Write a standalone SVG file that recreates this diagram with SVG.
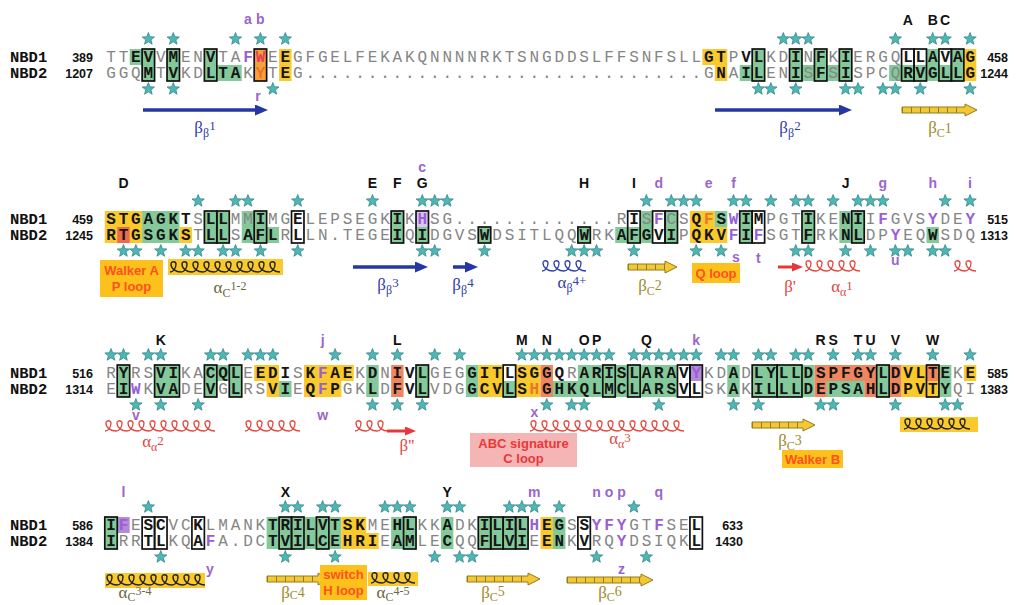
<svg xmlns="http://www.w3.org/2000/svg" width="1018" height="605" viewBox="0 0 1018 605">
<defs>
<style>
.sq{font-family:"Liberation Mono",monospace;font-size:16px;letter-spacing:2.85px}
.g{fill:#858585}
.k{fill:#151515;font-weight:bold}
.p{fill:#9a5fd6;font-weight:bold}
.o{fill:#f07428;font-weight:bold}
.rd{fill:#e8405a;font-weight:bold}
.nb{font-family:"Liberation Mono",monospace;font-size:15.5px;font-weight:bold;fill:#111}
.num{font-family:"Liberation Sans",Arial,sans-serif;font-size:12.5px;font-weight:bold;fill:#111;text-anchor:end}
.lab{font-family:"Liberation Sans",Arial,sans-serif;font-size:14px;font-weight:bold;fill:#111;text-anchor:middle}
.pl{font-family:"Liberation Sans",Arial,sans-serif;font-size:14px;font-weight:bold;fill:#9a66cc;text-anchor:middle}
.gr{fill:#84c99a}.ye{fill:#fac92c}.sa{fill:#ef8660}.pu{fill:#b58ad8}.or{fill:#f5a23c}.rb{fill:#ec6a50}.lp{fill:#dcc6f0}
.bx{fill:none;stroke:#111;stroke-width:1.7}
.ss{font-family:"Liberation Serif",serif;font-size:17px;text-anchor:middle}
.bl{fill:#3040a8}.rl{fill:#e0483f}.ol{fill:#a08a2a}.dk{fill:#6b6540}
.bt{font-family:"Liberation Sans",Arial,sans-serif;font-size:13px;font-weight:bold;fill:#ff5020;text-anchor:middle}
.ya{fill:#f4c733;stroke:#8f7d25;stroke-width:1}
.tk{fill:none;stroke:#8f7d25;stroke-width:6;stroke-dasharray:1 8}
.lb{stroke:#2537a3;stroke-width:3.5}
.lr{stroke:#e8363a;stroke-width:3}
</style>
<path id="st" d="M0,-6.5 L1.65,-2.27 L6.18,-2.01 L2.66,0.87 L3.82,5.26 L0,2.8 L-3.82,5.26 L-2.66,0.87 L-6.18,-2.01 L-1.65,-2.27 Z" fill="#4db7b6" stroke="#2b7d7d" stroke-width="0.7"/>
<marker id="ab" markerUnits="userSpaceOnUse" markerWidth="13" markerHeight="11" refX="1" refY="5.5" orient="auto" viewBox="0 0 13 11"><path d="M0,0 L13,5.5 L0,11 Z" fill="#2537a3"/></marker>
<marker id="ar" markerUnits="userSpaceOnUse" markerWidth="11" markerHeight="9" refX="1" refY="4.5" orient="auto" viewBox="0 0 11 9"><path d="M0,0 L11,4.5 L0,9 Z" fill="#e8363a"/></marker>
<pattern id="hr" width="11" height="14" patternUnits="userSpaceOnUse"><path d="M0,12 c3,0 6,-3 6,-8 c0,-3 -5,-3 -5,0 c0,5 5,8 10,8" fill="none" stroke="#e0483f" stroke-width="1.3"/></pattern>
<pattern id="hb" width="11" height="14" patternUnits="userSpaceOnUse"><path d="M0,12 c3,0 6,-3 6,-8 c0,-3 -5,-3 -5,0 c0,5 5,8 10,8" fill="none" stroke="#3040a8" stroke-width="1.3"/></pattern>
<pattern id="hk" width="11" height="14" patternUnits="userSpaceOnUse"><path d="M0,12 c3,0 6,-3 6,-8 c0,-3 -5,-3 -5,0 c0,5 5,8 10,8" fill="none" stroke="#222" stroke-width="1.4"/></pattern>
</defs>
<rect width="1018" height="605" fill="#fff"/>

<g id="row1">
<rect class="gr" x="129.68" y="49" width="24.9" height="16"/>
<rect class="gr" x="167.03" y="49" width="12.45" height="16"/>
<rect class="gr" x="204.38" y="49" width="12.45" height="16"/>
<rect class="gr" x="142.13" y="65" width="12.45" height="16"/>
<rect class="gr" x="167.03" y="65" width="12.45" height="16"/>
<rect class="gr" x="204.38" y="65" width="37.35" height="16"/>
<rect class="or" x="254.18" y="49" width="12.45" height="32"/>
<rect class="ye" x="279.08" y="49" width="12.45" height="32"/>
<rect class="ye" x="702.38" y="49" width="24.9" height="16"/>
<rect class="ye" x="714.83" y="65" width="12.45" height="16"/>
<rect class="gr" x="739.73" y="65" width="12.45" height="16"/>
<rect class="gr" x="752.18" y="49" width="12.45" height="32"/>
<rect class="gr" x="789.53" y="65" width="62.25" height="16"/>
<rect class="gr" x="789.53" y="49" width="12.45" height="16"/>
<rect class="gr" x="814.43" y="49" width="12.45" height="16"/>
<rect class="gr" x="839.33" y="49" width="12.45" height="16"/>
<rect class="gr" x="889.13" y="65" width="74.7" height="16"/>
<rect class="gr" x="926.48" y="49" width="12.45" height="16"/>
<rect class="gr" x="951.38" y="49" width="12.45" height="16"/>
<rect class="ye" x="963.83" y="49" width="12.45" height="32"/>
<text class="nb" x="10" y="62.3">NBD1</text><text class="num" x="93" y="62.3">389</text>
<text class="nb" x="10" y="78.3">NBD2</text><text class="num" x="93" y="78.3">1207</text>
<text class="sq" x="106.2" y="62.3"><tspan class="g">TT</tspan><tspan class="k">EV</tspan><tspan class="g">V</tspan><tspan class="k">M</tspan><tspan class="g">EN</tspan><tspan class="k">V</tspan><tspan class="g">TA</tspan><tspan class="p">F</tspan><tspan class="rd">W</tspan><tspan class="g">E</tspan><tspan class="k">E</tspan><tspan class="g">GFGELFEKAKQNNNNRKTSNGDDSLFFSNFSLL</tspan><tspan class="k">GT</tspan><tspan class="g">P</tspan><tspan class="k">VL</tspan><tspan class="g">KD</tspan><tspan class="k">I</tspan><tspan class="g">N</tspan><tspan class="k">F</tspan><tspan class="g">K</tspan><tspan class="k">I</tspan><tspan class="g">ERGQ</tspan><tspan class="k">LLAVAG</tspan></text>
<text class="sq" x="106.2" y="78.3"><tspan class="g">GGQ</tspan><tspan class="k">M</tspan><tspan class="g">T</tspan><tspan class="k">V</tspan><tspan class="g">KD</tspan><tspan class="k">LTA</tspan><tspan class="g">K</tspan><tspan class="o">Y</tspan><tspan class="g">T</tspan><tspan class="k">E</tspan><tspan class="g">G................................G</tspan><tspan class="k">N</tspan><tspan class="g">A</tspan><tspan class="k">IL</tspan><tspan class="g">EN</tspan><tspan class="k">I</tspan><tspan class="g">S</tspan><tspan class="k">F</tspan><tspan class="g">S</tspan><tspan class="k">I</tspan><tspan class="g">SPCQ</tspan><tspan class="k">RVGLLG</tspan></text>
<text class="num" x="1008" y="62.3">458</text><text class="num" x="1008" y="78.3">1244</text>
<rect class="bx" x="142.13" y="49" width="12.45" height="32"/>
<rect class="bx" x="167.03" y="49" width="12.45" height="32"/>
<rect class="bx" x="204.38" y="49" width="12.45" height="32"/>
<rect class="bx" x="254.18" y="49" width="12.45" height="32"/>
<rect class="bx" x="752.18" y="49" width="12.45" height="32"/>
<rect class="bx" x="789.53" y="49" width="12.45" height="32"/>
<rect class="bx" x="814.43" y="49" width="12.45" height="32"/>
<rect class="bx" x="839.33" y="49" width="12.45" height="32"/>
<rect class="bx" x="901.58" y="49" width="12.45" height="32"/>
<rect class="bx" x="914.03" y="49" width="12.45" height="32"/>
<rect class="bx" x="938.93" y="49" width="12.45" height="32"/>
<rect class="bx" x="951.38" y="49" width="12.45" height="32"/>
<g id="stars1">
<use href="#st" x="148.35" y="39"/><use href="#st" x="173.25" y="39"/><use href="#st" x="235.5" y="39"/><use href="#st" x="260.4" y="39"/><use href="#st" x="285.3" y="39"/><use href="#st" x="783.3" y="39"/><use href="#st" x="795.75" y="39"/><use href="#st" x="808.2" y="39"/><use href="#st" x="895.35" y="39"/><use href="#st" x="932.7" y="39"/><use href="#st" x="945.15" y="39"/><use href="#st" x="970.05" y="39"/>
<use href="#st" x="148.35" y="89"/><use href="#st" x="173.25" y="89"/><use href="#st" x="272.85" y="89"/><use href="#st" x="758.4" y="89"/><use href="#st" x="770.85" y="89"/><use href="#st" x="795.75" y="89"/><use href="#st" x="845.55" y="89"/><use href="#st" x="858" y="89"/><use href="#st" x="882.9" y="89"/><use href="#st" x="895.35" y="89"/><use href="#st" x="920.25" y="89"/><use href="#st" x="970.05" y="89"/>
</g>
<text class="pl" x="247.95" y="24">a</text><text class="pl" x="260.4" y="24">b</text>
<text class="lab" x="907.8" y="25">A</text><text class="lab" x="932.7" y="25">B</text><text class="lab" x="945.15" y="25">C</text>
<text class="pl" x="258" y="101">r</text>
</g>

<g id="ss1">
<line class="lb" x1="143" y1="110" x2="256" y2="110" marker-end="url(#ab)"/>
<text class="ss bl" x="205" y="133">β<tspan font-size="12" dy="4">β</tspan><tspan font-size="13" dy="-7">1</tspan></text>
<line class="lb" x1="715" y1="110" x2="840" y2="110" marker-end="url(#ab)"/>
<text class="ss bl" x="790" y="133">β<tspan font-size="12" dy="4">β</tspan><tspan font-size="13" dy="-7">2</tspan></text>
<path class="ya" d="M902,107 H965 V104 L977,110 L965,116 V113 H902 Z"/><path class="tk" d="M902,110 H965"/>
<text class="ss ol" x="940" y="133">β<tspan font-size="12" dy="4">C</tspan><tspan font-size="14" dy="-4">1</tspan></text>
</g>

<g id="row2">
<rect class="ye" x="104.78" y="211" width="37.35" height="32"/>
<rect class="rb" x="117.23" y="227" width="12.45" height="16"/>
<rect class="gr" x="142.13" y="211" width="37.35" height="32"/>
<rect class="ye" x="179.48" y="227" width="12.45" height="16"/>
<rect class="gr" x="204.38" y="211" width="24.9" height="32"/>
<rect class="gr" x="241.73" y="211" width="24.9" height="16"/>
<rect class="gr" x="241.73" y="227" width="37.35" height="16"/>
<rect class="gr" x="391.13" y="211" width="12.45" height="32"/>
<rect class="lp" x="416.03" y="211" width="12.45" height="16"/>
<rect class="gr" x="416.03" y="227" width="12.45" height="16"/>
<rect class="gr" x="478.28" y="227" width="12.45" height="16"/>
<rect class="gr" x="577.88" y="227" width="12.45" height="16"/>
<rect class="gr" x="640.13" y="211" width="12.45" height="16"/>
<rect class="gr" x="665.03" y="211" width="12.45" height="16"/>
<rect class="gr" x="615.23" y="227" width="37.35" height="16"/>
<rect class="gr" x="665.03" y="227" width="12.45" height="16"/>
<rect class="ye" x="689.93" y="211" width="24.9" height="16"/>
<rect class="ye" x="689.93" y="227" width="37.35" height="16"/>
<rect class="gr" x="714.83" y="211" width="12.45" height="16"/>
<rect class="gr" x="739.73" y="211" width="12.45" height="32"/>
<rect class="gr" x="801.98" y="211" width="12.45" height="32"/>
<rect class="gr" x="839.33" y="211" width="24.9" height="32"/>
<rect class="gr" x="926.48" y="227" width="12.45" height="16"/>
<text class="nb" x="10" y="224.3">NBD1</text><text class="num" x="93" y="224.3">459</text>
<text class="nb" x="10" y="240.3">NBD2</text><text class="num" x="93" y="240.3">1245</text>
<text class="sq" x="106.2" y="224.3"><tspan class="k">STGAGKT</tspan><tspan class="g">S</tspan><tspan class="k">LL</tspan><tspan class="g">MM</tspan><tspan class="k">I</tspan><tspan class="g">MG</tspan><tspan class="k">E</tspan><tspan class="g">LEPSEGK</tspan><tspan class="k">I</tspan><tspan class="g">K</tspan><tspan class="p">H</tspan><tspan class="g">SG.............R</tspan><tspan class="k">I</tspan><tspan class="g">S</tspan><tspan class="p">F</tspan><tspan class="g">CS</tspan><tspan class="k">Q</tspan><tspan class="o">F</tspan><tspan class="k">S</tspan><tspan class="p">W</tspan><tspan class="k">IM</tspan><tspan class="g">PGT</tspan><tspan class="k">I</tspan><tspan class="g">KE</tspan><tspan class="k">NI</tspan><tspan class="g">I</tspan><tspan class="p">F</tspan><tspan class="g">GVS</tspan><tspan class="p">Y</tspan><tspan class="g">DE</tspan><tspan class="p">Y</tspan></text>
<text class="sq" x="106.2" y="240.3"><tspan class="k">RTGSGKS</tspan><tspan class="g">T</tspan><tspan class="k">LL</tspan><tspan class="g">S</tspan><tspan class="k">AFL</tspan><tspan class="g">R</tspan><tspan class="k">L</tspan><tspan class="g">LN.TEGE</tspan><tspan class="k">I</tspan><tspan class="g">Q</tspan><tspan class="k">I</tspan><tspan class="g">DGVS</tspan><tspan class="k">W</tspan><tspan class="g">DSITLQQ</tspan><tspan class="k">W</tspan><tspan class="g">RK</tspan><tspan class="k">AFGVI</tspan><tspan class="g">P</tspan><tspan class="k">QKV</tspan><tspan class="p">F</tspan><tspan class="k">I</tspan><tspan class="p">F</tspan><tspan class="g">SGT</tspan><tspan class="k">F</tspan><tspan class="g">RK</tspan><tspan class="k">NL</tspan><tspan class="g">DP</tspan><tspan class="p">Y</tspan><tspan class="g">EQ</tspan><tspan class="k">W</tspan><tspan class="g">SDQ</tspan></text>
<text class="num" x="1008" y="224.3">515</text><text class="num" x="1008" y="240.3">1313</text>
<rect class="bx" x="204.38" y="211" width="12.45" height="32"/>
<rect class="bx" x="216.83" y="211" width="12.45" height="32"/>
<rect class="bx" x="254.18" y="211" width="12.45" height="32"/>
<rect class="bx" x="291.53" y="211" width="12.45" height="32"/>
<rect class="bx" x="391.13" y="211" width="12.45" height="32"/>
<rect class="bx" x="416.03" y="211" width="12.45" height="32"/>
<rect class="bx" x="478.28" y="227" width="12.45" height="16"/>
<rect class="bx" x="577.88" y="227" width="12.45" height="16"/>
<rect class="bx" x="627.68" y="211" width="12.45" height="32"/>
<rect class="bx" x="652.58" y="211" width="12.45" height="32"/>
<rect class="bx" x="665.03" y="211" width="12.45" height="32"/>
<rect class="bx" x="739.73" y="211" width="12.45" height="32"/>
<rect class="bx" x="752.18" y="211" width="12.45" height="32"/>
<rect class="bx" x="801.98" y="211" width="12.45" height="32"/>
<rect class="bx" x="851.78" y="211" width="12.45" height="32"/>
<g id="stars2">
<use href="#st" x="198.15" y="201"/><use href="#st" x="235.5" y="201"/><use href="#st" x="247.95" y="201"/><use href="#st" x="297.75" y="201"/><use href="#st" x="372.45" y="201"/><use href="#st" x="422.25" y="201"/><use href="#st" x="434.7" y="201"/><use href="#st" x="447.15" y="201"/><use href="#st" x="646.35" y="201"/><use href="#st" x="671.25" y="201"/><use href="#st" x="683.7" y="201"/><use href="#st" x="696.15" y="201"/><use href="#st" x="733.5" y="201"/><use href="#st" x="745.95" y="201"/><use href="#st" x="770.85" y="201"/><use href="#st" x="795.75" y="201"/><use href="#st" x="808.2" y="201"/><use href="#st" x="833.1" y="201"/><use href="#st" x="858" y="201"/><use href="#st" x="870.45" y="201"/><use href="#st" x="882.9" y="201"/><use href="#st" x="945.15" y="201"/><use href="#st" x="970.05" y="201"/>
<use href="#st" x="123.45" y="251"/><use href="#st" x="135.9" y="251"/><use href="#st" x="160.8" y="251"/><use href="#st" x="185.7" y="251"/><use href="#st" x="198.15" y="251"/><use href="#st" x="223.05" y="251"/><use href="#st" x="235.5" y="251"/><use href="#st" x="260.4" y="251"/><use href="#st" x="297.75" y="251"/><use href="#st" x="422.25" y="251"/><use href="#st" x="434.7" y="251"/><use href="#st" x="484.5" y="251"/><use href="#st" x="571.65" y="251"/><use href="#st" x="584.1" y="251"/><use href="#st" x="596.55" y="251"/><use href="#st" x="633.9" y="251"/><use href="#st" x="696.15" y="251"/><use href="#st" x="721.05" y="251"/><use href="#st" x="795.75" y="251"/><use href="#st" x="808.2" y="251"/><use href="#st" x="845.55" y="251"/><use href="#st" x="870.45" y="251"/><use href="#st" x="895.35" y="251"/><use href="#st" x="907.8" y="251"/><use href="#st" x="932.7" y="251"/><use href="#st" x="945.15" y="251"/>
</g>
<text class="lab" x="123.45" y="188">D</text><text class="lab" x="372.45" y="188">E</text><text class="lab" x="397.35" y="188">F</text><text class="lab" x="422.25" y="188">G</text><text class="lab" x="584.1" y="188">H</text><text class="lab" x="633.9" y="188">I</text><text class="lab" x="845.55" y="188">J</text>
<text class="pl" x="422.25" y="172">c</text><text class="pl" x="658.8" y="188">d</text><text class="pl" x="708.6" y="188">e</text><text class="pl" x="733.5" y="188">f</text><text class="pl" x="882.9" y="188">g</text><text class="pl" x="932.7" y="188">h</text><text class="pl" x="970.05" y="188">i</text>
<text class="pl" x="736" y="262">s</text><text class="pl" x="758.4" y="263">t</text><text class="pl" x="895.35" y="265">u</text>
</g>

<g id="ss2">
<rect x="100" y="260" width="63" height="37" fill="#fcc21b"/>
<text class="bt" x="131.5" y="275">Walker A</text><text class="bt" x="131.5" y="291">P loop</text>
<rect class="ye" x="168" y="259" width="115" height="16"/>
<rect width="110" height="14" fill="url(#hk)" transform="translate(170,260)"/>
<text class="ss dk" x="230" y="293">α<tspan font-size="12" dy="4">C</tspan><tspan font-size="12" dy="-7">1-2</tspan></text>
<line class="lb" x1="353" y1="267" x2="416" y2="267" marker-end="url(#ab)"/>
<text class="ss bl" x="388" y="290">β<tspan font-size="12" dy="4">β</tspan><tspan font-size="13" dy="-7">3</tspan></text>
<line class="lb" x1="453" y1="267" x2="466" y2="267" marker-end="url(#ab)"/>
<text class="ss bl" x="463" y="290">β<tspan font-size="12" dy="4">β</tspan><tspan font-size="13" dy="-7">4</tspan></text>
<rect width="44" height="14" fill="url(#hb)" transform="translate(542,259)"/>
<text class="ss bl" x="572" y="288">α<tspan font-size="12" dy="4">β</tspan><tspan font-size="13" dy="-7">4+</tspan></text>
<path class="ya" d="M628,264 H665 V261 L677,267 L665,273 V270 H628 Z"/><path class="tk" d="M628,267 H665"/>
<text class="ss ol" x="650" y="291">β<tspan font-size="12" dy="4">C</tspan><tspan font-size="14" dy="-5">2</tspan></text>
<rect x="692" y="263" width="48" height="20" fill="#fcc21b"/>
<text class="bt" x="716" y="277.5">Q loop</text>
<line class="lr" x1="778" y1="267" x2="793" y2="267" marker-end="url(#ar)"/>
<text class="ss rl" x="790" y="292">β'</text>
<rect width="55" height="14" fill="url(#hr)" transform="translate(805,259)"/>
<text class="ss rl" x="842" y="292">α<tspan font-size="12" dy="4">α</tspan><tspan font-size="13" dy="-6">1</tspan></text>
<rect width="22" height="14" fill="url(#hr)" transform="translate(954,259)"/>
</g>

<g id="row3">
<rect class="gr" x="117.23" y="365" width="12.45" height="32"/>
<rect class="gr" x="154.58" y="365" width="24.9" height="32"/>
<rect class="gr" x="204.38" y="365" width="12.45" height="32"/>
<rect class="gr" x="216.83" y="365" width="12.45" height="16"/>
<rect class="gr" x="229.28" y="365" width="12.45" height="32"/>
<rect class="ye" x="254.18" y="365" width="24.9" height="16"/>
<rect class="ye" x="266.63" y="381" width="12.45" height="16"/>
<rect class="gr" x="279.08" y="381" width="12.45" height="16"/>
<rect class="ye" x="303.98" y="365" width="49.8" height="16"/>
<rect class="ye" x="303.98" y="381" width="37.35" height="16"/>
<rect class="gr" x="366.23" y="365" width="12.45" height="32"/>
<rect class="sa" x="391.13" y="365" width="12.45" height="32"/>
<rect class="gr" x="416.03" y="365" width="12.45" height="32"/>
<rect class="gr" x="465.83" y="365" width="12.45" height="32"/>
<rect class="ye" x="478.28" y="365" width="24.9" height="32"/>
<rect class="gr" x="503.18" y="381" width="12.45" height="16"/>
<rect class="ye" x="515.63" y="365" width="24.9" height="32"/>
<rect class="sa" x="540.53" y="365" width="12.45" height="32"/>
<rect class="gr" x="552.98" y="381" width="124.5" height="16"/>
<rect class="gr" x="577.88" y="365" width="99.6" height="16"/>
<rect class="pu" x="689.93" y="365" width="12.45" height="16"/>
<rect class="gr" x="727.28" y="365" width="12.45" height="32"/>
<rect class="gr" x="752.18" y="365" width="62.25" height="32"/>
<rect class="sa" x="814.43" y="365" width="62.25" height="16"/>
<rect class="sa" x="814.43" y="381" width="12.45" height="16"/>
<rect class="gr" x="826.88" y="381" width="37.35" height="16"/>
<rect class="sa" x="864.23" y="381" width="12.45" height="16"/>
<rect class="gr" x="876.68" y="365" width="12.45" height="32"/>
<rect class="sa" x="889.13" y="365" width="12.45" height="32"/>
<rect class="ye" x="901.58" y="365" width="24.9" height="32"/>
<rect class="sa" x="926.48" y="365" width="12.45" height="16"/>
<rect class="ye" x="926.48" y="381" width="12.45" height="16"/>
<rect class="gr" x="938.93" y="365" width="12.45" height="32"/>
<rect class="ye" x="963.83" y="365" width="12.45" height="16"/>
<text class="nb" x="10" y="378.3">NBD1</text><text class="num" x="93" y="378.3">516</text>
<text class="nb" x="10" y="394.3">NBD2</text><text class="num" x="93" y="394.3">1314</text>
<text class="sq" x="106.2" y="378.3"><tspan class="g">R</tspan><tspan class="k">Y</tspan><tspan class="g">RS</tspan><tspan class="k">VI</tspan><tspan class="g">KA</tspan><tspan class="k">CQL</tspan><tspan class="g">E</tspan><tspan class="k">EDI</tspan><tspan class="g">S</tspan><tspan class="k">K</tspan><tspan class="p">F</tspan><tspan class="k">AE</tspan><tspan class="g">K</tspan><tspan class="k">D</tspan><tspan class="g">N</tspan><tspan class="k">IVL</tspan><tspan class="g">GEG</tspan><tspan class="k">GITLSGGQ</tspan><tspan class="g">R</tspan><tspan class="k">ARISLARAV</tspan><tspan class="p">Y</tspan><tspan class="g">KD</tspan><tspan class="k">A</tspan><tspan class="g">D</tspan><tspan class="k">LYLLDSPFGYLDVLTE</tspan><tspan class="g">K</tspan><tspan class="k">E</tspan></text>
<text class="sq" x="106.2" y="394.3"><tspan class="g">E</tspan><tspan class="k">I</tspan><tspan class="p">W</tspan><tspan class="g">K</tspan><tspan class="k">VA</tspan><tspan class="g">DE</tspan><tspan class="k">V</tspan><tspan class="g">G</tspan><tspan class="k">L</tspan><tspan class="g">RS</tspan><tspan class="k">VI</tspan><tspan class="g">E</tspan><tspan class="k">Q</tspan><tspan class="p">F</tspan><tspan class="k">P</tspan><tspan class="g">GK</tspan><tspan class="k">L</tspan><tspan class="g">D</tspan><tspan class="k">FVL</tspan><tspan class="g">VDG</tspan><tspan class="k">GCVLS</tspan><tspan class="o">H</tspan><tspan class="k">GHKQLMCLARSVL</tspan><tspan class="g">SK</tspan><tspan class="k">A</tspan><tspan class="g">K</tspan><tspan class="k">ILLLDEPSAHLDPVTY</tspan><tspan class="g">QI</tspan></text>
<text class="num" x="1008" y="378.3">585</text><text class="num" x="1008" y="394.3">1383</text>
<rect class="bx" x="117.23" y="365" width="12.45" height="32"/>
<rect class="bx" x="154.58" y="365" width="24.9" height="32"/>
<rect class="bx" x="204.38" y="365" width="12.45" height="32"/>
<rect class="bx" x="229.28" y="365" width="12.45" height="32"/>
<rect class="bx" x="416.03" y="365" width="12.45" height="32"/>
<rect class="bx" x="503.18" y="365" width="12.45" height="32"/>
<rect class="bx" x="602.78" y="365" width="12.45" height="32"/>
<rect class="bx" x="627.68" y="365" width="12.45" height="32"/>
<rect class="bx" x="677.48" y="365" width="12.45" height="32"/>
<rect class="bx" x="689.93" y="365" width="12.45" height="32"/>
<rect class="bx" x="752.18" y="365" width="24.9" height="32"/>
<rect class="bx" x="777.08" y="365" width="24.9" height="32"/>
<rect class="bx" x="876.68" y="365" width="12.45" height="32"/>
<rect class="bx" x="926.48" y="365" width="12.45" height="32"/>
<g id="stars3">
<use href="#st" x="111" y="355"/><use href="#st" x="123.45" y="355"/><use href="#st" x="148.35" y="355"/><use href="#st" x="160.8" y="355"/><use href="#st" x="210.6" y="355"/><use href="#st" x="223.05" y="355"/><use href="#st" x="247.95" y="355"/><use href="#st" x="260.4" y="355"/><use href="#st" x="272.85" y="355"/><use href="#st" x="335.1" y="355"/><use href="#st" x="372.45" y="355"/><use href="#st" x="397.35" y="355"/><use href="#st" x="434.7" y="355"/><use href="#st" x="459.6" y="355"/><use href="#st" x="521.85" y="355"/><use href="#st" x="534.3" y="355"/><use href="#st" x="546.75" y="355"/><use href="#st" x="559.2" y="355"/><use href="#st" x="571.65" y="355"/><use href="#st" x="584.1" y="355"/><use href="#st" x="596.55" y="355"/><use href="#st" x="609" y="355"/><use href="#st" x="633.9" y="355"/><use href="#st" x="646.35" y="355"/><use href="#st" x="658.8" y="355"/><use href="#st" x="671.25" y="355"/><use href="#st" x="683.7" y="355"/><use href="#st" x="696.15" y="355"/><use href="#st" x="721.05" y="355"/><use href="#st" x="733.5" y="355"/><use href="#st" x="758.4" y="355"/><use href="#st" x="770.85" y="355"/><use href="#st" x="795.75" y="355"/><use href="#st" x="808.2" y="355"/><use href="#st" x="833.1" y="355"/><use href="#st" x="858" y="355"/><use href="#st" x="870.45" y="355"/><use href="#st" x="895.35" y="355"/><use href="#st" x="932.7" y="355"/><use href="#st" x="970.05" y="355"/>
<use href="#st" x="135.9" y="405"/><use href="#st" x="160.8" y="405"/><use href="#st" x="198.15" y="405"/><use href="#st" x="372.45" y="405"/><use href="#st" x="397.35" y="405"/><use href="#st" x="422.25" y="405"/><use href="#st" x="546.75" y="405"/><use href="#st" x="571.65" y="405"/><use href="#st" x="584.1" y="405"/><use href="#st" x="658.8" y="405"/><use href="#st" x="733.5" y="405"/><use href="#st" x="758.4" y="405"/><use href="#st" x="820.65" y="405"/><use href="#st" x="833.1" y="405"/><use href="#st" x="895.35" y="405"/><use href="#st" x="945.15" y="405"/><use href="#st" x="957.6" y="405"/>
</g>
<text class="lab" x="160.8" y="345">K</text><text class="lab" x="397.35" y="345">L</text><text class="lab" x="521.85" y="345">M</text><text class="lab" x="546.75" y="345">N</text><text class="lab" x="584.1" y="345">O</text><text class="lab" x="596.55" y="345">P</text><text class="lab" x="646.35" y="345">Q</text><text class="lab" x="820.65" y="345">R</text><text class="lab" x="833.1" y="345">S</text><text class="lab" x="858" y="345">T</text><text class="lab" x="870.45" y="345">U</text><text class="lab" x="895.35" y="345">V</text><text class="lab" x="932.7" y="345">W</text>
<text class="pl" x="322.65" y="345">j</text><text class="pl" x="696.15" y="345">k</text>
<text class="pl" x="135.9" y="420">v</text><text class="pl" x="322.65" y="420">w</text><text class="pl" x="534.3" y="417">x</text>
</g>

<g id="ss3">
<rect width="110" height="14" fill="url(#hr)" transform="translate(105,419)"/>
<text class="ss rl" x="153" y="447">α<tspan font-size="12" dy="4">α</tspan><tspan font-size="13" dy="-6">2</tspan></text>
<rect width="55" height="14" fill="url(#hr)" transform="translate(245,419)"/>
<rect width="33" height="14" fill="url(#hr)" transform="translate(355,419)"/>
<line class="lr" x1="387" y1="431" x2="406" y2="431" marker-end="url(#ar)"/>
<text class="ss rl" x="407" y="451">β''</text>
<rect x="470" y="433" width="107" height="34" fill="#f5b5b5"/>
<text class="bt" x="523.5" y="448" style="fill:#e8383a">ABC signature</text>
<text class="bt" x="523.5" y="463" style="fill:#e8383a">C loop</text>
<rect width="154" height="14" fill="url(#hr)" transform="translate(530,419)"/>
<text class="ss rl" x="620" y="444">α<tspan font-size="12" dy="4">α</tspan><tspan font-size="13" dy="-6">3</tspan></text>
<path class="ya" d="M752,422 H803 V419 L815,425 L803,431 V428 H752 Z"/><path class="tk" d="M752,425 H803"/>
<text class="ss ol" x="790" y="446">β<tspan font-size="12" dy="4">C</tspan><tspan font-size="14" dy="-5">3</tspan></text>
<rect x="782" y="450" width="61" height="18" fill="#fcc21b"/>
<text class="bt" x="812.5" y="464">Walker B</text>
<rect class="ye" x="900" y="417" width="78" height="15"/>
<rect width="66" height="14" fill="url(#hk)" transform="translate(904,417)"/>
</g>

<g id="row4">
<rect class="gr" x="104.78" y="517" width="12.45" height="32"/>
<rect class="pu" x="117.23" y="517" width="12.45" height="16"/>
<rect class="gr" x="266.63" y="517" width="74.7" height="32"/>
<rect class="ye" x="341.33" y="517" width="24.9" height="16"/>
<rect class="ye" x="341.33" y="533" width="37.35" height="16"/>
<rect class="gr" x="391.13" y="517" width="24.9" height="32"/>
<rect class="gr" x="440.93" y="517" width="12.45" height="32"/>
<rect class="gr" x="478.28" y="517" width="49.8" height="32"/>
<rect class="ye" x="540.53" y="517" width="12.45" height="32"/>
<rect class="gr" x="552.98" y="517" width="12.45" height="32"/>
<text class="nb" x="10" y="530.3">NBD1</text><text class="num" x="93" y="530.3">586</text>
<text class="nb" x="10" y="546.3">NBD2</text><text class="num" x="93" y="546.3">1384</text>
<text class="sq" x="106.2" y="530.3"><tspan class="k">I</tspan><tspan class="p">F</tspan><tspan class="g">E</tspan><tspan class="k">SC</tspan><tspan class="g">VC</tspan><tspan class="k">K</tspan><tspan class="g">LMANK</tspan><tspan class="k">TRILVTSK</tspan><tspan class="g">ME</tspan><tspan class="k">HL</tspan><tspan class="g">KK</tspan><tspan class="k">A</tspan><tspan class="g">DK</tspan><tspan class="k">ILIL</tspan><tspan class="p">H</tspan><tspan class="k">EG</tspan><tspan class="g">S</tspan><tspan class="k">S</tspan><tspan class="p">YFY</tspan><tspan class="g">GT</tspan><tspan class="p">F</tspan><tspan class="g">SE</tspan><tspan class="k">L</tspan></text>
<text class="sq" x="106.2" y="546.3"><tspan class="k">I</tspan><tspan class="g">RR</tspan><tspan class="k">TL</tspan><tspan class="g">KQ</tspan><tspan class="k">A</tspan><tspan class="p">F</tspan><tspan class="g">A.DC</tspan><tspan class="k">TVILCEHRI</tspan><tspan class="g">E</tspan><tspan class="k">AM</tspan><tspan class="g">LE</tspan><tspan class="k">C</tspan><tspan class="g">QQ</tspan><tspan class="k">FLVI</tspan><tspan class="g">E</tspan><tspan class="k">EN</tspan><tspan class="g">K</tspan><tspan class="k">V</tspan><tspan class="g">RQ</tspan><tspan class="p">Y</tspan><tspan class="g">DSIQK</tspan><tspan class="k">L</tspan></text>
<text class="num" x="743" y="530.3">633</text><text class="num" x="743" y="546.3">1430</text>
<rect class="bx" x="104.78" y="517" width="12.45" height="32"/>
<rect class="bx" x="142.13" y="517" width="12.45" height="32"/>
<rect class="bx" x="154.58" y="517" width="12.45" height="32"/>
<rect class="bx" x="191.93" y="517" width="12.45" height="32"/>
<rect class="bx" x="279.08" y="517" width="12.45" height="32"/>
<rect class="bx" x="291.53" y="517" width="12.45" height="32"/>
<rect class="bx" x="316.43" y="517" width="12.45" height="32"/>
<rect class="bx" x="403.58" y="517" width="12.45" height="32"/>
<rect class="bx" x="478.28" y="517" width="12.45" height="32"/>
<rect class="bx" x="490.73" y="517" width="12.45" height="32"/>
<rect class="bx" x="503.18" y="517" width="12.45" height="32"/>
<rect class="bx" x="515.63" y="517" width="12.45" height="32"/>
<rect class="bx" x="577.88" y="517" width="12.45" height="32"/>
<rect class="bx" x="689.93" y="517" width="12.45" height="32"/>
<g id="stars4">
<use href="#st" x="148.35" y="507"/><use href="#st" x="285.3" y="507"/><use href="#st" x="297.75" y="507"/><use href="#st" x="322.65" y="507"/><use href="#st" x="335.1" y="507"/><use href="#st" x="384.9" y="507"/><use href="#st" x="397.35" y="507"/><use href="#st" x="409.8" y="507"/><use href="#st" x="447.15" y="507"/><use href="#st" x="459.6" y="507"/><use href="#st" x="509.4" y="507"/><use href="#st" x="521.85" y="507"/><use href="#st" x="534.3" y="507"/><use href="#st" x="559.2" y="507"/><use href="#st" x="633.9" y="507"/>
<use href="#st" x="160.8" y="557"/><use href="#st" x="285.3" y="557"/><use href="#st" x="335.1" y="557"/><use href="#st" x="434.7" y="557"/><use href="#st" x="459.6" y="557"/><use href="#st" x="472.05" y="557"/><use href="#st" x="596.55" y="557"/><use href="#st" x="646.35" y="557"/>
</g>
<text class="lab" x="285.3" y="497">X</text><text class="lab" x="447.15" y="497">Y</text>
<text class="pl" x="123.45" y="497">l</text><text class="pl" x="534.3" y="497">m</text><text class="pl" x="596.55" y="497">n</text><text class="pl" x="609" y="497">o</text><text class="pl" x="621.45" y="497">p</text><text class="pl" x="658.8" y="497">q</text>
<text class="pl" x="210" y="574">y</text><text class="pl" x="621.45" y="574">z</text>
</g>

<g id="ss4">
<rect class="ye" x="105" y="573" width="100" height="15"/>
<rect width="99" height="14" fill="url(#hk)" transform="translate(106,573)"/>
<text class="ss dk" x="135" y="598">α<tspan font-size="12" dy="3">C</tspan><tspan font-size="12" dy="-6">3-4</tspan></text>
<path class="ya" d="M267,576 H318 V573 L330,579 L318,585 V582 H267 Z"/><path class="tk" d="M267,579 H318"/>
<text class="ss ol" x="293" y="598">β<tspan font-size="12" dy="1">C</tspan><tspan font-size="14" dy="-2">4</tspan></text>
<rect x="320" y="565" width="47" height="35" fill="#fcc21b"/>
<text class="bt" x="343.5" y="579">switch</text><text class="bt" x="343.5" y="595">H loop</text>
<rect class="ye" x="368" y="572" width="50" height="14"/>
<rect width="44" height="14" fill="url(#hk)" transform="translate(371,571)"/>
<text class="ss dk" x="393" y="598">α<tspan font-size="12" dy="3">C</tspan><tspan font-size="12" dy="-6">4-5</tspan></text>
<path class="ya" d="M467,576 H528 V573 L540,579 L528,585 V582 H467 Z"/><path class="tk" d="M467,579 H528"/>
<text class="ss ol" x="493" y="598">β<tspan font-size="12" dy="3">C</tspan><tspan font-size="14" dy="-5">5</tspan></text>
<path class="ya" d="M567,577 H641 V574 L653,580 L641,586 V583 H567 Z"/><path class="tk" d="M567,580 H641"/>
<text class="ss ol" x="610" y="598">β<tspan font-size="12" dy="3">C</tspan><tspan font-size="14" dy="-5">6</tspan></text>
</g>
</svg>
